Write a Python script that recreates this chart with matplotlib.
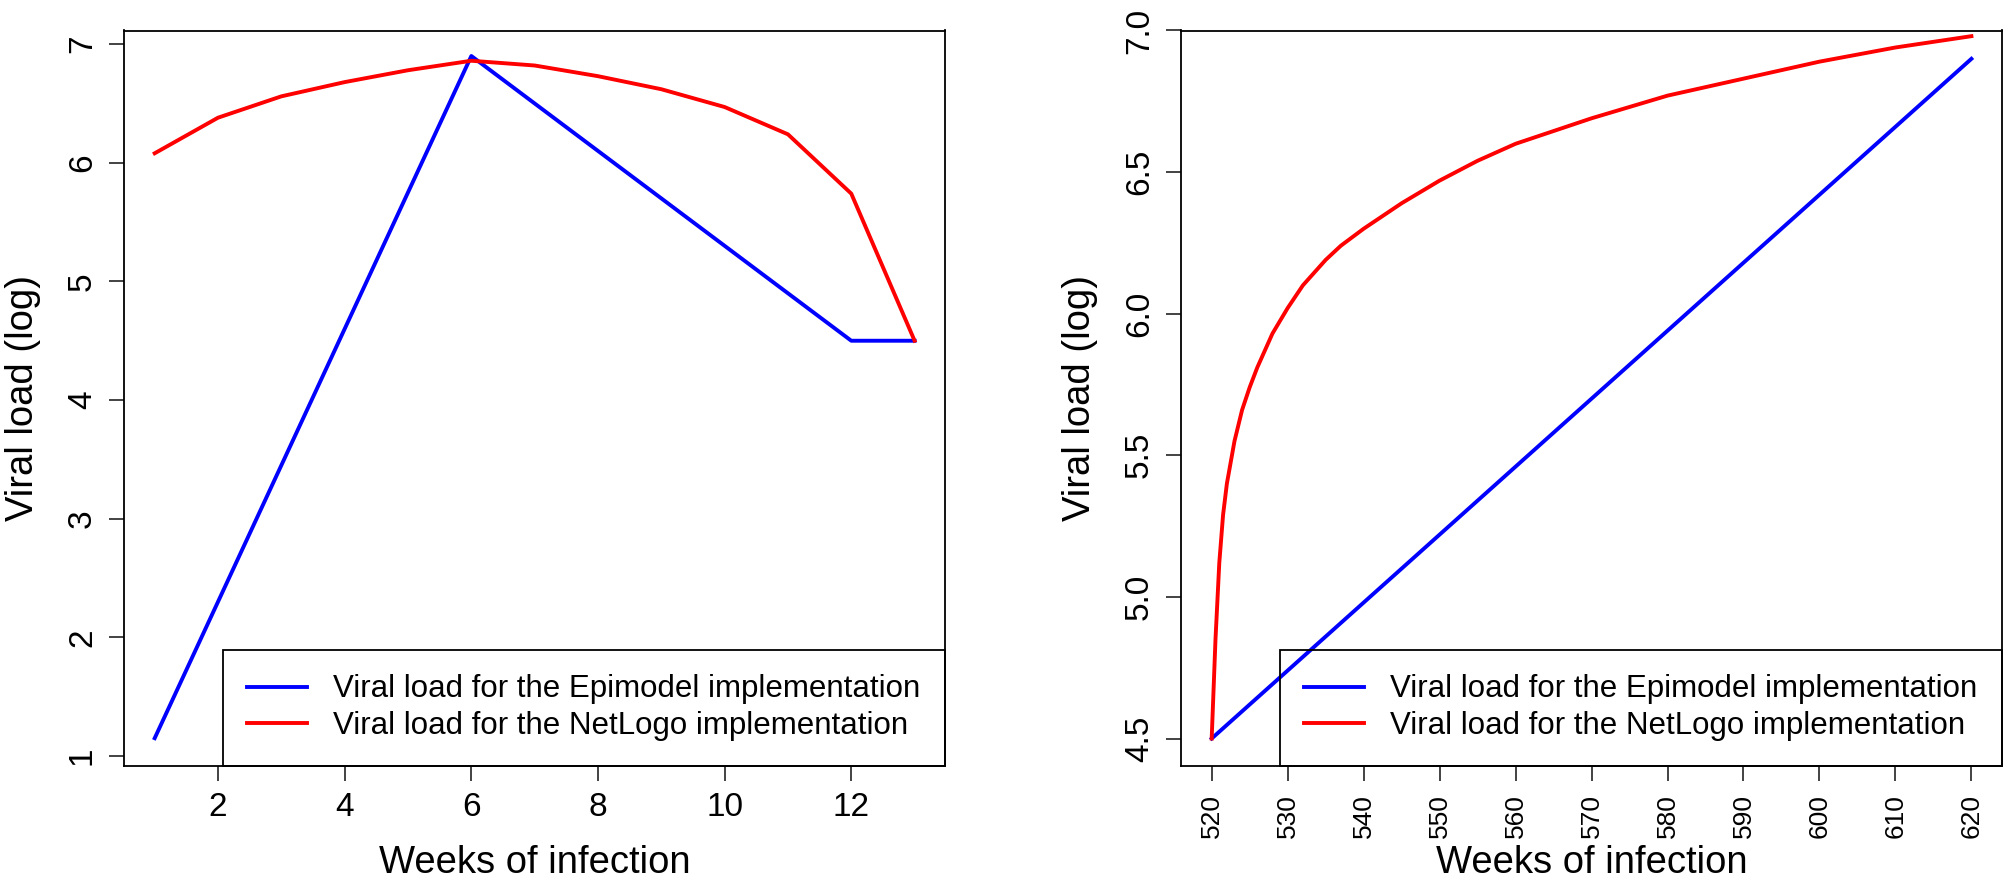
import matplotlib

matplotlib.use("Agg")
import matplotlib.pyplot as plt
import numpy as np

plt.rcParams["font.family"] = ["Liberation Sans", "DejaVu Sans"]

# early infection (weeks 1-13)
weeks_early = np.arange(1, 14)
epimodel_early = [1.15, 2.30, 3.45, 4.60, 5.75, 6.90, 6.50, 6.10, 5.70, 5.30, 4.90, 4.50, 4.50]
netlogo_early = [6.08, 6.38, 6.56, 6.68, 6.78, 6.86, 6.82, 6.73, 6.62, 6.47, 6.24, 5.74, 4.50]

# late infection (weeks 520-620)
weeks_late_epi = [520, 620]
epimodel_late = [4.50, 6.90]
weeks_late_net = [520, 520.5, 521, 521.5, 522, 523, 524, 525, 526, 527, 528, 530, 532,
                  535, 537, 540, 545, 550, 555, 560, 565, 570, 580, 590, 600, 610, 620]
netlogo_late = [4.50, 4.85, 5.12, 5.29, 5.40, 5.55, 5.66, 5.74, 5.81, 5.87, 5.93, 6.02, 6.10,
                6.19, 6.24, 6.30, 6.39, 6.47, 6.54, 6.60, 6.645, 6.69, 6.77, 6.83, 6.89, 6.94, 6.98]

labels = ["Viral load for the Epimodel implementation",
          "Viral load for the NetLogo implementation"]

BLUE = "#0000ff"
RED = "#ff0000"
W, H = 2010, 882


def style_axis(ax):
    for side in ("left", "right", "top", "bottom"):
        ax.spines[side].set_linewidth(1.3)
        ax.spines[side].set_color("black")
    ax.tick_params(axis="both", direction="out", length=10.5, width=1.2,
                   color="#222222", labelsize=24, pad=8.5)
    ax.tick_params(axis="y", labelrotation=90)
    for lab in ax.get_yticklabels():
        lab.set_verticalalignment("center")
    ax.set_xlabel("Weeks of infection", fontsize=27.5)
    ax.set_ylabel("Viral load (log)", fontsize=27.5)
    ax.xaxis.set_label_coords(0.5, -0.108)
    ax.yaxis.set_label_coords(-0.101, 0.5)
    leg = ax.legend(loc="lower right", bbox_to_anchor=(1.0, 0.0), borderaxespad=0,
                    fontsize=22.5, handlelength=1.91, handletextpad=0.85,
                    borderpad=0.78, labelspacing=0.22, fancybox=False,
                    edgecolor="black", framealpha=1)
    leg.get_frame().set_facecolor("none")
    leg.get_frame().set_linewidth(1.3)


fig = plt.figure(figsize=(W / 100, H / 100), dpi=100)
bottom = (H - 765.7) / H
height = 735.2 / H
ax1 = fig.add_axes([124.3 / W, bottom, 820.7 / W, height])
ax2 = fig.add_axes([1181.3 / W, bottom, 820.5 / W, height])

ax1.plot(weeks_early, epimodel_early, color=BLUE, lw=2.8, label=labels[0])
ax1.plot(weeks_early, netlogo_early, color=RED, lw=2.8, label=labels[1])
ax1.set_xlim(0.52, 13.48)
ax1.set_ylim(0.918, 7.115)
ax1.set_xticks([2, 4, 6, 8, 10, 12])
ax1.set_yticks([1, 2, 3, 4, 5, 6, 7])
style_axis(ax1)

ax2.plot(weeks_late_epi, epimodel_late, color=BLUE, lw=2.8, label=labels[0])
ax2.plot(weeks_late_net, netlogo_late, color=RED, lw=2.8, label=labels[1])
ax2.set_xlim(516, 624)
ax2.set_ylim(4.404, 7.0)
ax2.set_xticks(np.arange(520, 621, 10))
ax2.set_yticks([4.5, 5.0, 5.5, 6.0, 6.5, 7.0])
ax2.set_yticklabels(["4.5", "5.0", "5.5", "6.0", "6.5", "7.0"])
style_axis(ax2)
ax2.tick_params(axis="x", labelrotation=90, labelsize=19, pad=10)

fig.savefig("out.png", dpi=100)
